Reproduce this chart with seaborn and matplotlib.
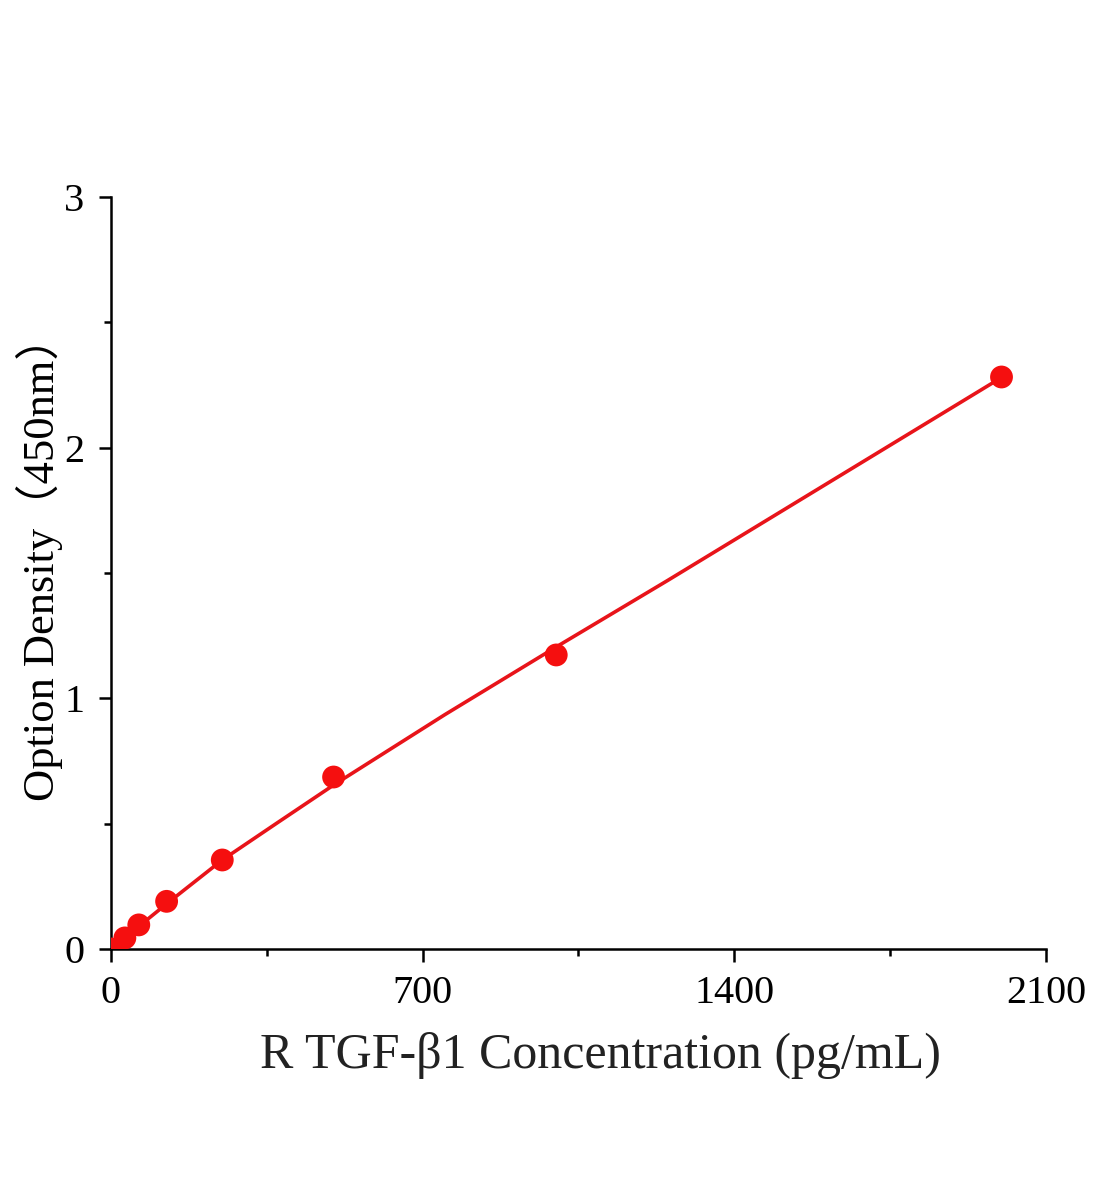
import matplotlib
matplotlib.use("Agg")
import matplotlib.pyplot as plt
from matplotlib.ticker import MultipleLocator
import seaborn as sns
import pandas as pd

# standard points
conc = [0, 31.25, 62.5, 125, 250, 500, 1000, 2000]
od = [0.0, 0.044, 0.096, 0.19, 0.355, 0.686, 1.173, 2.282]

# fitted curve
fit_x = [0, 125, 250, 375, 500, 750, 1000, 1250, 1500, 1750, 2000]
fit_y = [0.0, 0.18, 0.355, 0.505, 0.654, 0.935, 1.205, 1.47, 1.74, 2.01, 2.28]

sns.set_style("ticks")
plt.rcParams['font.family'] = ['Liberation Serif', 'Noto Sans CJK SC']

fig = plt.figure(figsize=(11.04, 12), dpi=100)
ax = fig.add_axes([0.1005, 0.2092, 0.847, 0.6266])

# Curve and points
sns.lineplot(x=fit_x, y=fit_y, ax=ax, color='#e8141a', linewidth=2.6, sort=True)
sns.scatterplot(x=conc, y=od, ax=ax, color='#f50f0f', s=270, edgecolor='none', zorder=3)

ax.set_xlim(0, 2100)
ax.set_ylim(0, 3)
ax.xaxis.set_major_locator(MultipleLocator(700))
ax.xaxis.set_minor_locator(MultipleLocator(350))
ax.yaxis.set_major_locator(MultipleLocator(1))
ax.yaxis.set_minor_locator(MultipleLocator(0.5))

# Axes style
sns.despine(ax=ax)
for side in ['left', 'bottom']:
    ax.spines[side].set_linewidth(1.8)
    ax.spines[side].set_color('black')
ax.tick_params(which='major', direction='out', length=9, width=1.8, labelsize=29, colors='black', pad=10)
ax.tick_params(which='minor', direction='out', length=5, width=1.8, colors='black')
ax.grid(False)

ax.set_xlabel("R TGF-β1 Concentration (pg/mL)", fontsize=36, color='#222222', labelpad=14)
ax.xaxis.label.set_x(0.524)
ax.set_ylabel("Option Density（450nm）", fontsize=32, color='black', labelpad=1)
ax.yaxis.label.set_y(0.52)

fig.savefig("out.png", dpi=100)
